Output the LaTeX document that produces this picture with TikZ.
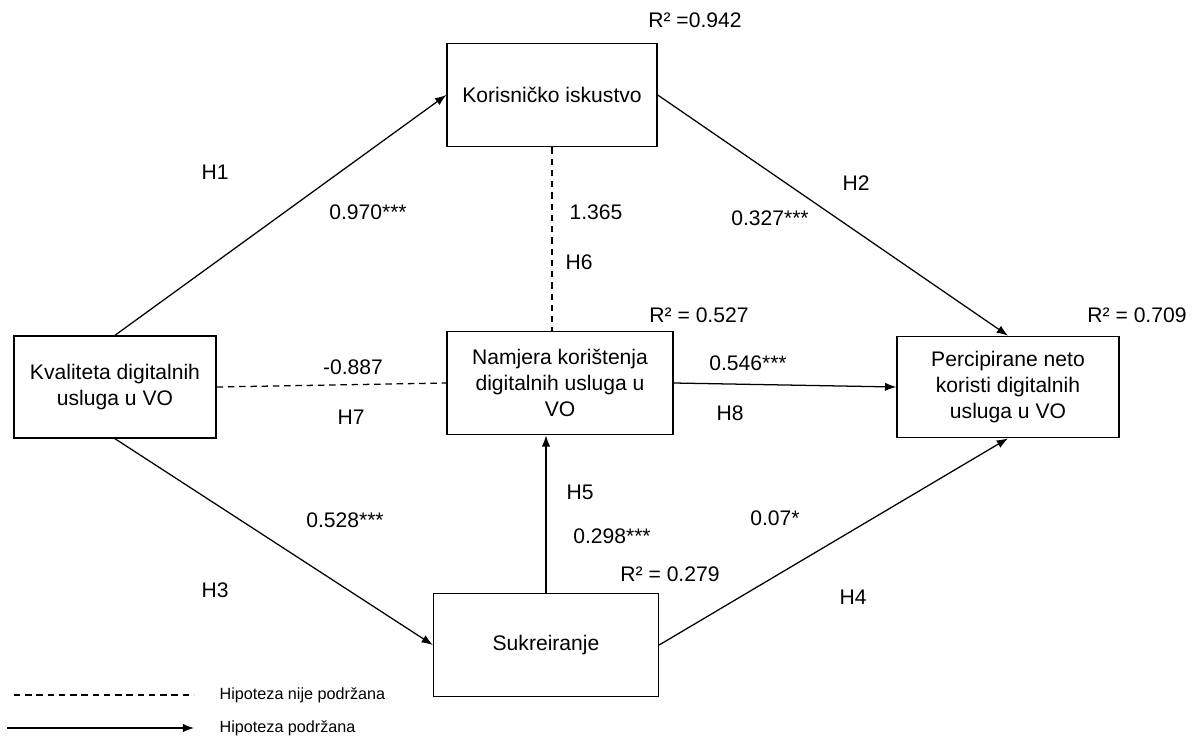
\documentclass[tikz,border=0pt]{standalone}
\usepackage{fontspec}
\setmainfont{Liberation Sans}
\usepackage{xcolor}
\usepackage{tikz}
\usetikzlibrary{positioning, arrows.meta, calc}
\tikzset{
  konstrukt/.style={draw, line width=1pt, align=center, inner sep=2pt,
    font=\fontsize{15}{18.5}\selectfont},
  veza/.style={line width=0.9pt, -{Latex[length=8pt,width=6pt]}},
  nepodrzana/.style={line width=0.9pt, dash pattern=on 4.5pt off 3.5pt},
  oznaka/.style={font=\fontsize{15}{18}\selectfont, inner sep=1pt},
  legenda/.style={font=\fontsize{11.5}{14}\selectfont, anchor=west, inner sep=1pt}
}

\begin{document}
\begin{tikzpicture}[x=0.025cm, y=-0.025cm]
    \useasboundingbox (0,0) rectangle (1200,742);

    % konstrukti
    \node[konstrukt, minimum width=5.25cm, minimum height=2.58cm] (iskustvo) at (552,95) {Korisničko iskustvo};
    \node[konstrukt, minimum width=5.05cm, minimum height=2.55cm] (kvaliteta) at (115,387) {Kvaliteta digitalnih\\usluga u VO};
    \node[konstrukt, minimum width=5.65cm, minimum height=2.58cm] (namjera) at (560,383) {Namjera korištenja\\digitalnih usluga u\\VO};
    \node[konstrukt, minimum width=5.55cm, minimum height=2.53cm] (koristi) at (1008,387) {Percipirane neto\\koristi digitalnih\\usluga u VO};
    \node[konstrukt, minimum width=5.62cm, minimum height=2.58cm] (sukreiranje) at (546,645) {Sukreiranje};

    % veze
    \draw[veza] (kvaliteta.north) -- (iskustvo.west);
    \draw[veza] (iskustvo.east) -- (koristi.north);
    \draw[veza] (kvaliteta.south) -- (sukreiranje.west);
    \draw[veza] (sukreiranje.east) -- (koristi.south);
    \draw[veza] (sukreiranje.north) -- (sukreiranje.north |- namjera.south);
    \draw[veza] (namjera.east) -- (koristi.west);
    \draw[nepodrzana] (iskustvo.south) -- (iskustvo.south |- namjera.north);
    \draw[nepodrzana] (kvaliteta.east) -- (namjera.west);

    % koeficijenti i hipoteze
    \node[oznaka] (r2isk) at (695,20) {R² =0.942};
    \node[oznaka] (h1) at (215,172) {H1};
    \node[oznaka] (b1) at (368,212) {0.970***};
    \node[oznaka] (b6) at (596,212) {1.365};
    \node[oznaka] (h6) at (579,262) {H6};
    \node[oznaka] (h2) at (856,183) {H2};
    \node[oznaka] (b2) at (770,218) {0.327***};
    \node[oznaka] (r2nam) at (699,315) {R² = 0.527};
    \node[oznaka] (r2kor) at (1137,315) {R² = 0.709};
    \node[oznaka] (b7) at (353,367) {-0.887};
    \node[oznaka] (h7) at (351,417) {H7};
    \node[oznaka] (b8) at (748,363) {0.546***};
    \node[oznaka] (h8) at (730,413) {H8};
    \node[oznaka] (h5) at (580,492) {H5};
    \node[oznaka] (b5) at (612,536) {0.298***};
    \node[oznaka] (b3) at (345,520) {0.528***};
    \node[oznaka] (h3) at (215,590) {H3};
    \node[oznaka] (r2suk) at (670,574) {R² = 0.279};
    \node[oznaka] (b4) at (775,518) {0.07*};
    \node[oznaka] (h4) at (853,597) {H4};

    % legenda
    \coordinate (leg1a) at (14,695);
    \coordinate (leg1b) at (194,695);
    \coordinate (leg2a) at (7,728);
    \coordinate (leg2b) at (194,728);
    \draw[nepodrzana] (leg1a) -- (leg1b);
    \draw[veza] (leg2a) -- (leg2b);
    \node[legenda] (legnije) at (218,695) {Hipoteza nije podržana};
    \node[legenda] (legda) at (218,728) {Hipoteza podržana};
  \end{tikzpicture}
\end{document}
